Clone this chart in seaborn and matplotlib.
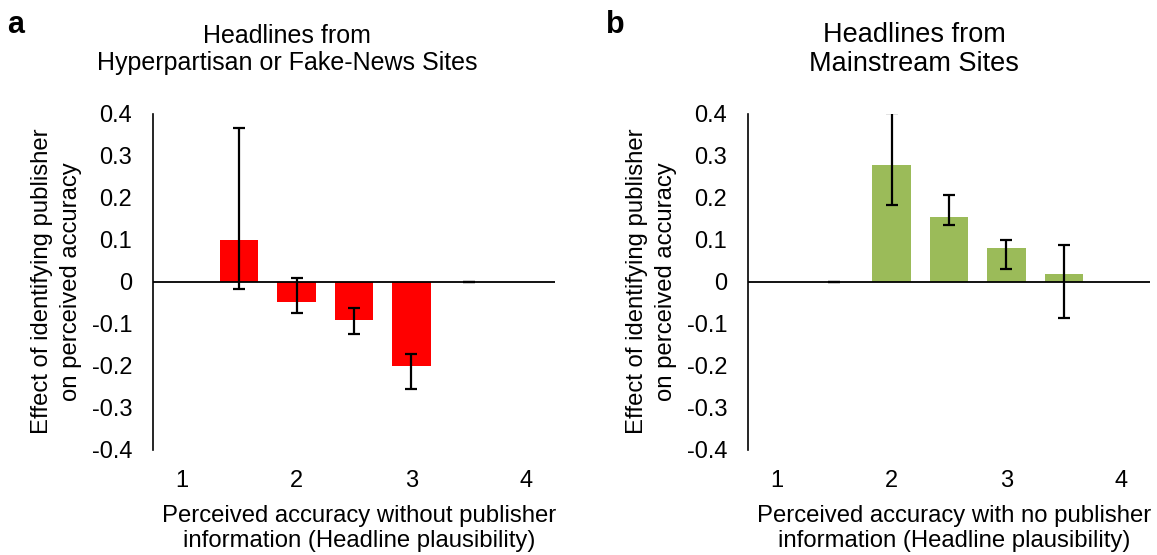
import numpy as np
import pandas as pd
import matplotlib
matplotlib.use("Agg")
import matplotlib.pyplot as plt
import seaborn as sns

# Plausibility levels (x categories) and the labelled ticks
levels = ["1", "1.5", "2", "2.5", "3", "3.5", "4"]
tick_levels = ["1", "2", "3", "4"]

# Panel a: hyperpartisan / fake-news headlines
fake_effect = [np.nan, 0.100, -0.049, -0.092, -0.200, 0.000, np.nan]
fake_ci_low = [np.nan, -0.017, -0.076, -0.125, -0.257, 0.000, np.nan]
fake_ci_high = [np.nan, 0.365, 0.009, -0.064, -0.173, 0.000, np.nan]

# Panel b: mainstream headlines
main_effect = [np.nan, 0.000, 0.278, 0.154, 0.080, 0.017, np.nan]
main_ci_low = [np.nan, 0.000, 0.182, 0.134, 0.030, -0.086, np.nan]
main_ci_high = [np.nan, 0.000, 0.401, 0.205, 0.098, 0.086, np.nan]

y_ticks = [0.4, 0.3, 0.2, 0.1, 0.0, -0.1, -0.2, -0.3, -0.4]
y_tick_labels = ["0.4", "0.3", "0.2", "0.1", "0", "-0.1", "-0.2", "-0.3", "-0.4"]

sns.set_style("white")
plt.rcParams["font.family"] = ["Liberation Sans", "DejaVu Sans"]
plt.rcParams["axes.unicode_minus"] = False
plt.rcParams["text.color"] = "black"
plt.rcParams["axes.labelcolor"] = "black"

W, H = 1157, 555
fig = plt.figure(figsize=(W / 100, H / 100), dpi=100)


def px_axes(left, right, top, bottom):
    return fig.add_axes([left / W, 1 - bottom / H, (right - left) / W, (bottom - top) / H])


def panel(ax, effect, lo, hi, color, title, title_x, title_top, title_size,
          xlabel, letter, letter_x):
    df = pd.DataFrame({"level": levels, "effect": effect, "lo": lo, "hi": hi})
    shown = df.dropna(subset=["effect"])
    sns.barplot(data=shown, x="level", y="effect", order=levels, color=color,
                saturation=1, width=0.67, errorbar=None, linewidth=0, ax=ax)
    pos = [levels.index(l) for l in shown["level"]]
    eff = shown["effect"].to_numpy()
    yerr = [eff - shown["lo"].to_numpy(), shown["hi"].to_numpy() - eff]
    ax.errorbar(pos, eff, yerr=yerr, fmt="none", ecolor="black",
                elinewidth=1.6, capsize=4.5, capthick=1.6, zorder=4)
    ax.axhline(0, color="black", lw=1.3, zorder=3)

    ax.set_xlim(-0.5, len(levels) - 0.5)
    ax.set_ylim(-0.4, 0.4)
    ax.set_xticks([levels.index(t) for t in tick_levels])
    ax.set_xticklabels(tick_levels)
    ax.set_yticks(y_ticks)
    ax.set_yticklabels(y_tick_labels)
    ax.tick_params(axis="both", length=0, labelsize=17, colors="black")
    ax.tick_params(axis="y", pad=15)
    ax.tick_params(axis="x", pad=15)

    for side in ["top", "right", "bottom"]:
        ax.spines[side].set_visible(False)
    ax.spines["left"].set_color("black")
    ax.spines["left"].set_linewidth(1.2)

    ax.set_xlabel(xlabel, fontsize=17.2, linespacing=1.2, labelpad=9)
    ax.xaxis.label.set_x(0.5 + 5 / 402)
    ax.set_ylabel("Effect of identifying publisher\non perceived accuracy",
                  fontsize=17.2, linespacing=1.45, va="center", ha="center")
    ax.yaxis.set_label_coords(-0.24, 0.5)

    fig.text(title_x / W, 1 - title_top / H, title, ha="center", va="top",
             fontsize=title_size, linespacing=1.15)
    fig.text(letter_x / W, 1 - 33 / H, letter, ha="left", va="baseline",
             fontsize=22, fontweight="bold")


ax_a = px_axes(153, 555, 113.5, 449.5)
panel(ax_a, fake_effect, fake_ci_low, fake_ci_high, "#FF0000",
      "Headlines from\nHyperpartisan or Fake-News Sites", 287, 24, 18,
      "Perceived accuracy without publisher\ninformation (Headline plausibility)",
      "a", 7)

ax_b = px_axes(748, 1150, 113.5, 449.5)
panel(ax_b, main_effect, main_ci_low, main_ci_high, "#9BBB59",
      "Headlines from\nMainstream Sites", 914, 22, 19.5,
      "Perceived accuracy with no publisher\ninformation (Headline plausibility)",
      "b", 606)

fig.savefig("out.png", dpi=100)
